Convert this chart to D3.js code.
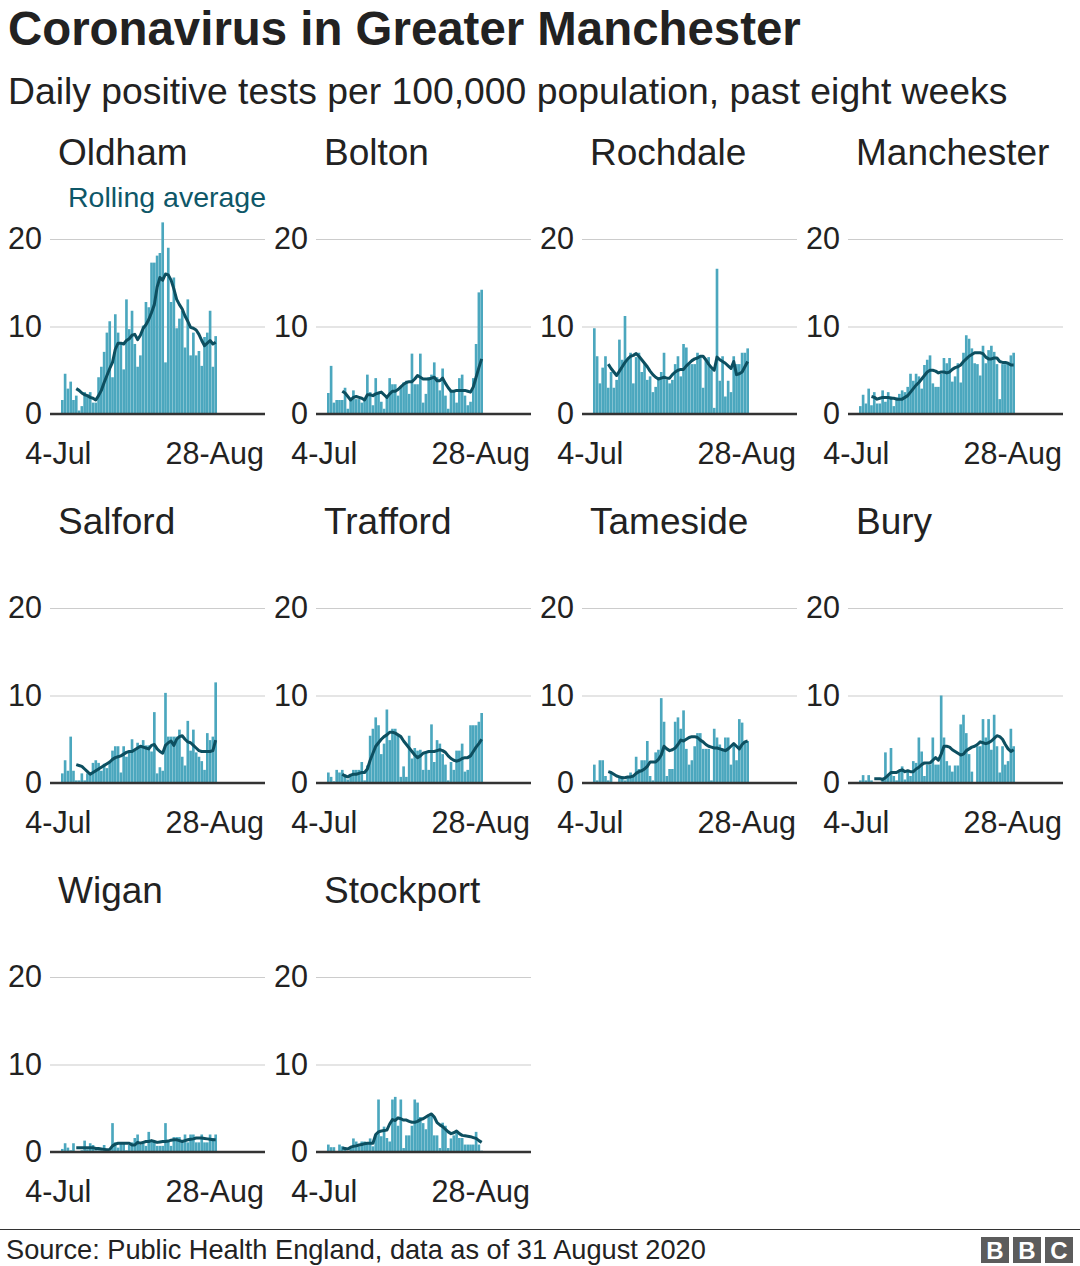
<!DOCTYPE html>
<html>
<head>
<meta charset="utf-8">
<script src="https://cdn.jsdelivr.net/npm/d3@7"></script>
<style>
  body { margin: 0; background: #fff; }
  text { font-family: "Liberation Sans", Arial, Helvetica, sans-serif; fill: #222; }
</style>
</head>
<body>
<div id="chart"></div>
<script>
//
// data, one value per day from 4-Jul to 28-Aug
// (per 100,000 population). null = no rolling average yet
//
var areas = ["Oldham", "Bolton", "Rochdale", "Manchester", "Salford", "Trafford", "Tameside", "Bury", "Wigan", "Stockport"];

var oldhamDaily = [1.6, 4.6, 2.9, 3.7, 1.6, 2.1, 0.4, 0.9, 2.5, 2.1, 2.5, 1.3, 1.3, 4.2, 5.4, 7.1, 9.3, 10.6, 4.2, 11.4,
  9.3, 8.2, 5.1, 13.1, 9.7, 11.8, 8.0, 5.4, 6.7, 10.1, 12.8, 12.2, 17.3, 17.3, 18.1, 18.4, 21.9, 5.9, 19.0, 12.8,
  15.6, 9.8, 10.9, 11.8, 7.6, 13.1, 6.7, 9.3, 6.7, 7.2, 5.5, 8.8, 9.3, 11.8, 5.4, 8.9];
var oldhamAvg = [null, null, null, null, null, 2.9, 2.7, 2.4, 2.2, 2.1, 1.9, 1.8, 1.6, 2.1, 2.7, 3.6, 4.4, 5.2, 5.9, 7.4,
  8.1, 8.1, 8.0, 8.4, 8.6, 9.0, 9.1, 8.5, 9.0, 9.8, 10.2, 10.8, 11.6, 12.5, 14.5, 15.6, 15.3, 16.0, 15.9, 15.3,
  14.3, 13.1, 12.5, 12.0, 11.2, 10.6, 9.9, 9.8, 9.6, 9.1, 8.4, 7.8, 8.1, 8.4, 8.0, 8.2];

var boltonDaily = [2.4, 5.5, 1.3, 1.6, 1.6, 1.6, 3.0, 0.6, 1.7, 2.7, 1.7, 1.7, 1.3, 1.7, 4.5, 2.5, 1.0, 4.1, 2.3, 1.4,
  0.6, 2.1, 4.1, 3.4, 3.4, 2.1, 3.2, 3.6, 3.8, 2.3, 6.9, 3.4, 3.4, 6.9, 1.3, 2.3, 4.2, 4.5, 5.9, 4.2,
  2.7, 5.2, 2.1, 0.6, 2.7, 2.7, 1.3, 4.1, 4.5, 2.1, 1.0, 1.4, 4.1, 8.0, 13.9, 14.2];
var boltonAvg = [null, null, null, null, null, 2.6, 2.4, 2.0, 1.6, 1.9, 2.0, 1.9, 1.8, 1.6, 2.2, 2.2, 2.1, 2.3, 2.4, 2.5,
  2.2, 1.9, 2.3, 2.6, 2.6, 2.8, 3.1, 3.4, 3.6, 3.7, 3.7, 4.0, 4.4, 4.2, 4.0, 4.0, 4.0, 4.1, 4.2, 3.8,
  3.8, 4.1, 3.5, 3.0, 2.6, 2.6, 2.7, 2.7, 2.7, 2.7, 2.6, 2.5, 3.1, 4.2, 5.3, 6.3];

var rochdaleDaily = [9.8, 6.6, 3.5, 5.3, 6.6, 3.0, 4.8, 3.0, 3.9, 8.5, 6.2, 11.2, 6.2, 7.0, 3.5, 6.5, 7.0, 4.8, 5.7, 3.9,
  4.3, 2.5, 3.1, 4.2, 4.8, 7.0, 3.9, 3.5, 3.9, 5.7, 6.6, 4.3, 8.0, 7.6, 5.7, 5.7, 5.7, 7.0, 6.5, 3.0,
  6.3, 6.5, 5.1, 0.7, 16.6, 3.8, 6.6, 2.0, 3.8, 2.5, 6.6, 5.7, 5.7, 7.0, 7.0, 7.5];
var rochdaleAvg = [null, null, null, null, null, 5.7, 5.2, 4.8, 4.4, 4.9, 5.4, 5.9, 6.3, 6.6, 6.7, 6.9, 6.6, 6.2, 5.8, 5.4,
  4.9, 4.5, 4.2, 4.0, 4.1, 4.2, 4.1, 4.1, 4.5, 4.8, 5.0, 5.1, 5.1, 5.5, 5.8, 6.1, 6.3, 6.4, 6.6, 6.6,
  6.2, 5.7, 5.3, 5.0, 6.5, 6.2, 6.0, 5.8, 5.5, 5.2, 6.0, 4.5, 4.6, 4.8, 5.4, 6.0];

var manchesterDaily = [0.9, 2.2, 1.2, 2.9, 1.0, 2.5, 1.2, 1.2, 2.7, 1.4, 2.5, 2.0, 0.9, 1.9, 2.3, 2.7, 2.5, 3.1, 4.6, 3.8,
  4.6, 4.3, 2.9, 5.6, 6.2, 6.7, 3.5, 3.1, 3.1, 4.6, 6.4, 5.8, 6.4, 3.7, 4.3, 5.8, 3.6, 7.0, 9.0, 8.6,
  7.5, 5.8, 5.7, 4.4, 7.8, 5.8, 7.3, 7.8, 7.1, 5.7, 1.7, 5.7, 5.7, 5.7, 6.7, 7.0];
var manchesterAvg = [null, null, null, null, 2.0, 1.9, 1.7, 1.8, 1.9, 1.9, 1.9, 1.8, 1.8, 1.7, 1.7, 1.7, 1.9, 2.1, 2.5, 2.9,
  3.3, 3.6, 4.0, 4.4, 4.8, 5.0, 5.0, 4.9, 4.7, 4.8, 4.8, 4.7, 4.8, 5.1, 5.3, 5.4, 5.6, 6.0, 6.3, 6.6,
  6.8, 7.0, 7.0, 7.0, 6.9, 6.5, 6.3, 6.3, 6.4, 6.4, 6.0, 5.9, 5.9, 5.8, 5.6, 5.6];

var salfordDaily = [1.1, 2.6, 1.4, 5.3, 1.4, 0.3, 0.3, 1.1, 0.3, 1.1, 1.1, 2.3, 2.6, 2.3, 1.4, 2.2, 1.7, 2.3, 3.7, 4.2,
  4.2, 1.2, 4.2, 3.0, 3.7, 5.0, 3.7, 4.6, 4.0, 4.9, 4.3, 4.3, 3.6, 8.1, 1.1, 1.8, 1.4, 10.3, 5.3, 5.3,
  5.3, 5.3, 6.1, 3.0, 2.0, 7.1, 3.7, 6.1, 3.5, 3.0, 2.5, 1.5, 5.7, 4.9, 5.3, 11.5];
var salfordAvg = [null, null, null, null, null, 2.1, 2.0, 1.9, 1.6, 1.3, 1.0, 1.2, 1.4, 1.6, 1.8, 2.0, 2.2, 2.4, 2.7, 2.9,
  3.0, 3.1, 3.3, 3.5, 3.6, 3.6, 3.8, 4.0, 4.2, 4.1, 4.0, 3.9, 4.3, 4.4, 3.9, 3.6, 3.4, 4.3, 4.6, 4.8,
  4.3, 5.0, 5.3, 5.4, 5.0, 4.7, 4.6, 4.3, 4.0, 3.7, 3.6, 3.6, 3.6, 3.6, 3.7, 4.9];

var traffordDaily = [1.2, 0.7, 0.2, 1.5, 1.2, 1.5, 1.0, 0.4, 1.0, 1.5, 1.5, 1.5, 2.4, 0.3, 2.0, 5.4, 6.2, 7.5, 6.6, 3.3,
  4.5, 8.4, 4.9, 6.2, 6.2, 5.4, 0.7, 1.9, 0.7, 5.4, 2.8, 4.0, 3.7, 3.8, 1.5, 3.6, 1.5, 6.7, 2.4, 4.9,
  4.5, 3.3, 2.1, 0.3, 2.4, 1.5, 3.7, 3.7, 4.5, 1.3, 1.5, 6.6, 6.6, 6.6, 7.0, 8.0];
var traffordAvg = [null, null, null, null, null, 1.0, 0.8, 0.7, 0.9, 1.0, 1.0, 1.1, 1.2, 1.2, 1.6, 2.6, 3.4, 4.2, 4.6, 5.0,
  5.3, 5.5, 5.8, 5.8, 5.7, 5.5, 5.3, 4.8, 4.4, 4.0, 3.6, 3.2, 2.9, 3.1, 3.4, 3.5, 3.6, 3.6, 3.6, 3.7,
  3.8, 3.7, 3.5, 3.1, 2.8, 2.6, 2.5, 2.6, 2.8, 2.9, 2.9, 3.1, 3.6, 4.1, 4.5, 5.0];

var tamesideDaily = [2.1, 0.3, 2.6, 2.6, 0.8, 0.3, 1.2, 0, 0, 0.8, 0.8, 0.3, 0.8, 1.2, 0.8, 3.0, 1.6, 2.6, 2.6, 4.8,
  0.8, 0.3, 3.5, 3.8, 9.7, 7.0, 0.8, 1.6, 1.6, 7.0, 7.5, 6.2, 8.3, 3.9, 2.1, 2.6, 4.2, 5.7, 5.7, 3.9,
  3.9, 3.9, 0.3, 6.2, 5.2, 4.4, 3.7, 5.2, 5.2, 2.1, 4.4, 2.6, 7.3, 6.9, 4.8, 4.8];
var tamesideAvg = [null, null, null, null, null, 1.3, 1.2, 1.0, 0.8, 0.7, 0.6, 0.6, 0.7, 0.7, 0.8, 1.1, 1.3, 1.4, 1.6, 1.9,
  2.4, 2.4, 2.4, 2.7, 3.2, 4.2, 3.9, 3.7, 3.8, 4.0, 4.4, 4.9, 4.8, 5.0, 5.2, 5.3, 5.3, 5.2, 4.9, 4.7,
  4.4, 4.2, 4.1, 4.0, 4.0, 3.9, 3.8, 3.7, 3.9, 4.2, 4.5, 4.2, 3.9, 4.4, 4.7, 4.8];

var buryDaily = [0.3, 0.9, 0.3, 0.9, 0.3, 0, 0, 0, 0.6, 3.5, 0.8, 4.0, 0.8, 0.3, 1.3, 1.9, 0.4, 1.3, 0.8, 2.5,
  2.3, 5.2, 3.6, 0.8, 2.1, 2.1, 5.2, 2.1, 2.1, 10.0, 5.2, 2.5, 2.0, 1.3, 2.0, 2.0, 6.7, 7.8, 5.7, 3.3,
  1.3, 0, 4.2, 4.2, 7.3, 5.2, 7.3, 3.8, 7.8, 4.2, 1.2, 4.2, 2.1, 2.5, 6.2, 4.2];
var buryAvg = [null, null, null, null, null, 0.5, 0.5, 0.5, 0.4, 0.6, 0.9, 1.2, 1.2, 1.2, 1.4, 1.5, 1.3, 1.4, 1.3, 1.3,
  1.6, 1.8, 2.1, 2.3, 2.3, 2.3, 2.6, 2.9, 2.6, 3.3, 4.2, 4.2, 4.1, 3.8, 3.6, 3.4, 3.2, 3.3, 3.7, 3.9,
  4.1, 4.2, 4.4, 4.7, 4.6, 4.5, 4.6, 4.8, 5.1, 5.4, 5.3, 5.0, 4.4, 3.9, 3.6, 3.8];

var wiganDaily = [0.35, 1.0, 0.5, 0.2, 1.0, 0, 0, 0.2, 1.3, 0.3, 1.0, 0.8, 0.2, 0.2, 0.2, 0.8, 0.2, 0.2, 3.3, 1.1,
  0.5, 1.1, 1.1, 0.2, 0.8, 1.1, 1.6, 2.0, 0.8, 1.1, 0.7, 2.3, 1.2, 1.2, 0.7, 0.7, 0.7, 3.3, 1.3, 0.7,
  1.7, 1.7, 1.7, 1.1, 2.0, 1.1, 2.0, 2.0, 1.1, 1.1, 2.0, 1.1, 1.1, 2.0, 1.6, 2.0];
var wiganAvg = [null, null, null, null, null, 0.5, 0.5, 0.5, 0.5, 0.5, 0.5, 0.5, 0.4, 0.4, 0.35, 0.3, 0.25, 0.3, 0.7, 0.9,
  1.0, 1.0, 1.0, 1.0, 1.0, 0.8, 0.8, 1.1, 1.0, 1.1, 1.2, 1.2, 1.3, 1.2, 1.1, 1.15, 1.2, 1.2, 1.25, 1.35,
  1.4, 1.4, 1.3, 1.2, 1.3, 1.4, 1.45, 1.5, 1.6, 1.6, 1.6, 1.55, 1.5, 1.45, 1.4, 1.4];

var stockportDaily = [0.85, 0.55, 0.55, 0.1, 0.85, 0.65, 0.45, 0.1, 0.45, 1.55, 1.2, 0.65, 1.2, 1.2, 1.1, 1.55, 0.65, 1.9, 6.0, 1.8,
  2.9, 1.6, 1.2, 6.0, 6.3, 3.0, 6.0, 0.45, 1.9, 1.9, 3.0, 6.0, 5.65, 4.0, 3.3, 2.6, 4.1, 4.3, 1.9, 1.9,
  0.45, 3.35, 3.0, 0.45, 1.55, 1.9, 2.2, 1.6, 1.6, 0.85, 0.85, 0.85, 0.85, 2.3, 0.85, 0.15];
var stockportAvg = [null, null, null, null, null, 0.45, 0.4, 0.35, 0.55, 0.65, 0.7, 0.8, 0.85, 0.95, 1.0, 1.0, 1.0, 2.0, 2.3, 2.4,
  2.45, 2.5, 3.2, 3.7, 3.6, 3.9, 3.8, 3.65, 3.65, 3.5, 3.4, 3.4, 3.5, 3.7, 3.8, 4.0, 4.2, 4.35, 4.0, 3.35,
  3.1, 2.9, 2.6, 2.3, 2.1, 2.2, 2.4, 2.1, 1.9, 1.85, 1.8, 1.75, 1.65, 1.55, 1.3, 1.1];

var dailySeries = [oldhamDaily, boltonDaily, rochdaleDaily, manchesterDaily, salfordDaily,
  traffordDaily, tamesideDaily, buryDaily, wiganDaily, stockportDaily];
var avgSeries = [oldhamAvg, boltonAvg, rochdaleAvg, manchesterAvg, salfordAvg,
  traffordAvg, tamesideAvg, buryAvg, wiganAvg, stockportAvg];

var yTicks = [0, 10, 20];
var xTickLabels = ["4-Jul", "28-Aug"];

// the 56 days shown on every panel
var days = d3.timeDay.range(new Date(2020, 6, 4), new Date(2020, 7, 29));
var dayLabel = d3.timeFormat("%-d-%b");

//
// layout
//
var width = 1080, height = 1266;
var colStep = 266, rowStep = 369;
var plotW = 215, plotH = 175;
var firstLeft = 50, firstZero = 414;

var barColor = "#4ba7be";
var lineColor = "#0d4f60";

var svg = d3.select("#chart").append("svg")
  .attr("width", width)
  .attr("height", height)
  .style("display", "block");

svg.append("text")
  .attr("x", 8).attr("y", 45)
  .style("font-size", "47.4px")
  .style("font-weight", "bold")
  .text("Coronavirus in Greater Manchester");

svg.append("text")
  .attr("x", 8).attr("y", 104)
  .style("font-size", "37.3px")
  .text("Daily positive tests per 100,000 population, past eight weeks");

//
// one small panel per area
//
areas.forEach(function(name, i) {
  var col = i % 4, row = Math.floor(i / 4);
  var left = firstLeft + col * colStep;
  var zero = firstZero + row * rowStep;

  var x = d3.scaleBand()
    .domain(days)
    .range([left + 11, left + 167])
    .paddingInner(0.05);

  var y = d3.scaleLinear()
    .domain([0, 20])
    .range([zero, zero - plotH]);

  var g = svg.append("g").attr("class", "panel");

  g.append("text")
    .attr("x", left + 8)
    .attr("y", zero - 249)
    .style("font-size", "37px")
    .text(name);

  // gridlines + y labels
  var yAxis = g.append("g")
    .attr("transform", "translate(" + left + ",0)")
    .call(d3.axisLeft(y).tickValues(yTicks).tickSize(-plotW).tickPadding(8).tickFormat(d3.format("d")));
  yAxis.select(".domain").remove();
  yAxis.selectAll("line").attr("stroke", "#cccccc").attr("stroke-width", 1.2);
  yAxis.selectAll("text")
    .style("font-size", "30.5px")
    .style("font-family", "'Liberation Sans', Arial, sans-serif")
    .attr("fill", "#222");

  // daily bars
  g.selectAll("rect")
    .data(dailySeries[i])
    .enter().append("rect")
    .attr("x", function(d, j) { return x(days[j]); })
    .attr("width", x.bandwidth())
    .attr("y", function(d) { return y(d); })
    .attr("height", function(d) { return y(0) - y(d); })
    .attr("fill", barColor);

  // rolling average
  var line = d3.line()
    .defined(function(d) { return d != null; })
    .x(function(d, j) { return x(days[j]) + x.bandwidth() / 2; })
    .y(function(d) { return y(d); });

  g.append("path")
    .datum(avgSeries[i])
    .attr("d", line)
    .attr("fill", "none")
    .attr("stroke", lineColor)
    .attr("stroke-width", 3)
    .attr("stroke-linejoin", "round");

  // zero baseline on top of bars
  g.append("line")
    .attr("x1", left).attr("x2", left + plotW)
    .attr("y1", y(0)).attr("y2", y(0))
    .attr("stroke", "#333")
    .attr("stroke-width", 2.6);

  // first and last day labels
  var xAxis = g.append("g")
    .attr("transform", "translate(0," + zero + ")")
    .call(d3.axisBottom(x)
      .tickValues(days.filter(function(d) { return xTickLabels.indexOf(dayLabel(d)) >= 0; }))
      .tickFormat(dayLabel)
      .tickSize(0)
      .tickPadding(28));
  xAxis.select(".domain").remove();
  xAxis.selectAll("text")
    .style("font-size", "30.5px")
    .style("font-family", "'Liberation Sans', Arial, sans-serif")
    .attr("fill", "#222")
    .attr("dx", function(d, k) { return k == 0 ? -4 : -1; });

  if (i == 0) {
    g.append("text")
      .attr("x", left + 18)
      .attr("y", zero - 207)
      .style("font-size", "28.5px")
      .style("fill", "#0e5768")
      .text("Rolling average");
  }
});

//
// footer
//
svg.append("line")
  .attr("x1", 0).attr("x2", width)
  .attr("y1", 1229.5).attr("y2", 1229.5)
  .attr("stroke", "#333").attr("stroke-width", 1.2);

svg.append("text")
  .attr("x", 6).attr("y", 1259)
  .style("font-size", "27.2px")
  .text("Source: Public Health England, data as of 31 August 2020");

var logo = svg.append("g").attr("transform", "translate(981,1237)");
["B", "B", "C"].forEach(function(letter, k) {
  logo.append("rect")
    .attr("x", k * 32).attr("y", 0)
    .attr("width", 28).attr("height", 26)
    .attr("fill", "#5c5c5c");
  logo.append("text")
    .attr("x", k * 32 + 14).attr("y", 22)
    .attr("text-anchor", "middle")
    .style("font-size", "24px")
    .style("font-weight", "bold")
    .style("fill", "#fff")
    .text(letter);
});
</script>
</body>
</html>
